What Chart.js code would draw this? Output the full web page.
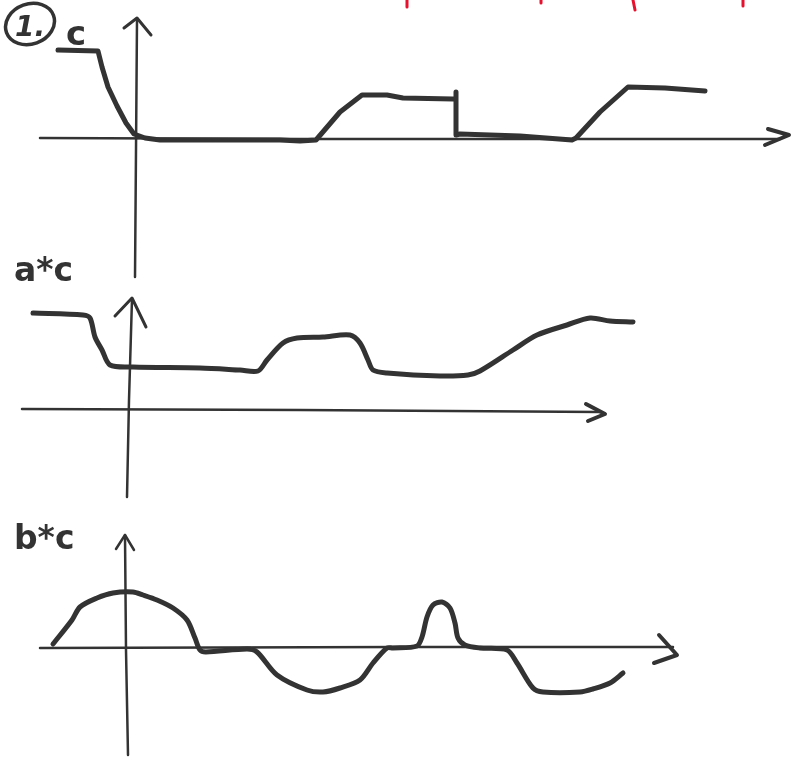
<!DOCTYPE html>
<html>
<head>
<meta charset="utf-8">
<script src="https://cdn.jsdelivr.net/npm/chart.js@4"></script>
<style>
  html, body { margin: 0; padding: 0; background: #fff; }
  #sketch { display: block; }
</style>
</head>
<body>
<canvas id="sketch" width="804" height="771"></canvas>
<script>
// sketch points, [x, y] in page units (y grows downward)
const curveC = [[58,50],[98,51],[102,67],[108,87],[117,106],[126,123],[134,134],[145,138],[160,140],[220,140],[280,140],[300,141],[316,140],[340,112],[362,95],[387,95],[403,98],[453,99],[456,99],[456,92],[456,135],[460,134],[520,136],[572,140],[576,138],[600,112],[628,87],[665,88],[705,91]];
const curveAC = [[33,313],[83,315],[90,318],[95,337],[102,350],[110,365],[133,367],[200,368],[240,370],[258,371],[267,360],[283,343],[297,338],[323,337],[350,335],[360,343],[368,360],[373,370],[387,373],[440,376],[468,375],[480,371],[513,350],[537,335],[567,325],[590,318],[610,321],[633,322]];
const curveBC = [[53,644],[72,620],[80,607],[97,598],[113,593],[133,592],[143,595],[157,600],[173,608],[187,620],[195,638],[200,650],[206,652],[247,649],[257,652],[277,675],[307,690],[323,692],[340,688],[360,680],[373,663],[387,648],[393,648],[417,646],[422,637],[427,617],[433,605],[442,602],[450,608],[455,623],[458,638],[465,645],[480,648],[507,650],[517,663],[533,688],[543,692],[580,692],[593,689],[610,683],[623,673]];

const axisC = [[40,138],[300,139],[560,139],[780,139]];
const arrowXC = [[768,129],[789,135],[765,145]];
const axisYC = [[135,277],[136,150],[137,20]];
const arrowYC = [[124,28],[137,18],[151,35]];

const axisAC = [[22,409],[300,410],[600,412]];
const arrowXAC = [[586,404],[605,414],[588,421]];
const axisYAC = [[127,497],[129,400],[132,299]];
const arrowYAC = [[115,316],[132,298],[146,327]];

const axisBC = [[40,648],[400,647],[673,647]];
const arrowXBC = [[659,635],[677,655],[654,663]];
const axisYBC = [[128,755],[126,650],[125,535]];
const arrowYBC = [[116,549],[125,535],[134,550]];

const redTicks = [[[407,0],[407,7]],[[541,0],[541,3]],[[633,0],[635,10]],[[743,0],[743,6]]];

const labels = [
  { text: 'c', x: 66, y: 45, size: 34 },
  { text: 'a*c', x: 14, y: 281, size: 33 },
  { text: 'b*c', x: 14, y: 549, size: 33 }
];

const ink = '#333333';

function toPts(arr) {
  return arr.map(p => ({ x: p[0], y: p[1] }));
}

function stroke(arr, width, tension, color) {
  return {
    data: toPts(arr),
    showLine: true,
    borderColor: color || ink,
    borderWidth: width,
    pointRadius: 0,
    tension: tension,
    borderCapStyle: 'round',
    borderJoinStyle: 'round',
    fill: false
  };
}

const datasets = [
  stroke(axisC, 2.5, 0), stroke(arrowXC, 4, 0), stroke(axisYC, 2.5, 0), stroke(arrowYC, 3, 0),
  stroke(axisAC, 2.5, 0.3), stroke(arrowXAC, 4, 0), stroke(axisYAC, 2.5, 0), stroke(arrowYAC, 3, 0),
  stroke(axisBC, 2.5, 0), stroke(arrowXBC, 4, 0), stroke(axisYBC, 2.5, 0), stroke(arrowYBC, 2.5, 0),
  stroke(curveC, 5, 0),
  stroke(curveAC, 5, 0.3),
  stroke(curveBC, 5, 0.3)
];
redTicks.forEach(t => datasets.push(stroke(t, 3, 0, '#e8112d')));

// handwritten labels and the circled "1."
const sketchText = {
  id: 'sketchText',
  afterDatasetsDraw(chart) {
    const ctx = chart.ctx;
    const sx = chart.scales.x, sy = chart.scales.y;
    ctx.save();
    ctx.fillStyle = ink;
    ctx.strokeStyle = ink;
    ctx.textBaseline = 'alphabetic';
    labels.forEach(l => {
      ctx.font = 'bold ' + l.size + 'px "DejaVu Sans"';
      ctx.fillText(l.text, sx.getPixelForValue(l.x), sy.getPixelForValue(l.y));
    });
    ctx.lineWidth = 3.5;
    ctx.beginPath();
    ctx.ellipse(sx.getPixelForValue(30), sy.getPixelForValue(24), 25, 20, -0.35, 0, Math.PI * 2);
    ctx.stroke();
    ctx.font = 'bold italic 28px "DejaVu Sans"';
    ctx.fillText('1.', sx.getPixelForValue(15), sy.getPixelForValue(36));
    ctx.restore();
  }
};

new Chart(document.getElementById('sketch'), {
  type: 'scatter',
  data: { datasets: datasets },
  options: {
    responsive: false,
    animation: false,
    layout: { padding: 0 },
    plugins: { legend: { display: false }, tooltip: { enabled: false } },
    scales: {
      x: { type: 'linear', min: 0, max: 804, display: false },
      y: { type: 'linear', min: 0, max: 771, reverse: true, display: false }
    }
  },
  plugins: [sketchText]
});
</script>
</body>
</html>
